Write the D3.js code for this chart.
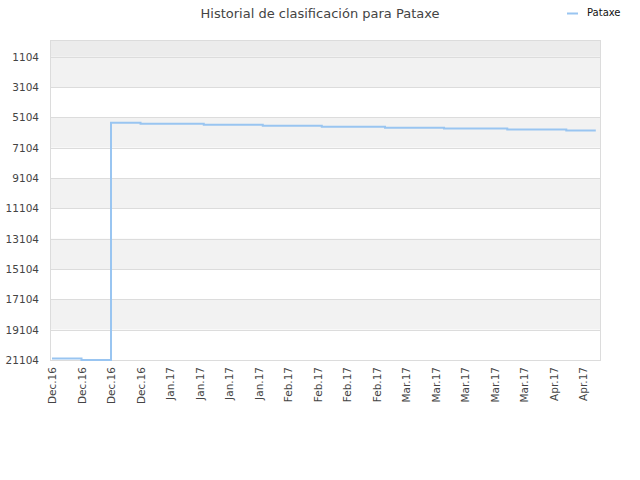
<!DOCTYPE html>
<html>
<head>
<meta charset="utf-8">
<script src="https://cdn.jsdelivr.net/npm/d3@7"></script>
<style>
  body { margin: 0; background: #fff; }
  text { font-family: "DejaVu Sans", sans-serif; }
</style>
</head>
<body>
<div id="graph"></div>
<script>
const seriesName = "Pataxe";
const dates = ["2016-12-07", "2016-12-14", "2016-12-21", "2016-12-28", "2017-01-12", "2017-01-26",
               "2017-02-09", "2017-02-24", "2017-03-10", "2017-03-25", "2017-04-08", "2017-04-15"];
const ranks = [21005, 21104, 5454, 5520, 5586, 5652, 5718, 5784, 5840, 5903, 5968, 5968];
const yTicks = [1104, 3104, 5104, 7104, 9104, 11104, 13104, 15104, 17104, 19104, 21104];
const xTicks = ["2016-12-07", "2016-12-14", "2016-12-21", "2016-12-28", "2017-01-04", "2017-01-11",
                "2017-01-18", "2017-01-25", "2017-02-01", "2017-02-08", "2017-02-15", "2017-02-22",
                "2017-03-01", "2017-03-08", "2017-03-15", "2017-03-22", "2017-03-29", "2017-04-05", "2017-04-12"];

const parse = d3.timeParse("%Y-%m-%d");
const data = dates.map((d, i) => ({ date: parse(d), rank: ranks[i] }));

const width = 640, height = 480;
const plot = { left: 50, right: 600, top: 40, bottom: 360 };

const svg = d3.select("#graph").append("svg")
    .attr("width", width)
    .attr("height", height);

const x = d3.scaleTime()
    .domain([parse("2016-12-07"), parse("2017-04-16")])
    .range([52, plot.right]);

const y = d3.scaleLinear()
    .domain([0, 21104])
    .range([plot.top, plot.bottom]);

// background bands, alternating between the ticks
const bandEdges = [0].concat(yTicks);
svg.append("g").selectAll("rect")
    .data(d3.pairs(bandEdges))
    .join("rect")
    .attr("x", plot.left)
    .attr("width", plot.right - plot.left)
    .attr("y", d => y(d[0]))
    .attr("height", d => y(d[1]) - y(d[0]))
    .attr("fill", (d, i) => i === 0 ? "#ececec" : (i % 2 === 1 ? "#f2f2f2" : "#ffffff"));

// grid lines
svg.append("g").selectAll("line")
    .data(yTicks)
    .join("line")
    .attr("x1", plot.left).attr("x2", plot.right)
    .attr("y1", d => Math.round(y(d)) + 0.5).attr("y2", d => Math.round(y(d)) + 0.5)
    .attr("stroke", "#dcdcdc");

// frame
svg.append("rect")
    .attr("x", plot.left + 0.5).attr("y", plot.top + 0.5)
    .attr("width", plot.right - plot.left).attr("height", plot.bottom - plot.top)
    .attr("fill", "none")
    .attr("stroke", "#dcdcdc");

// y axis
const yAxis = d3.axisLeft(y).tickValues(yTicks).tickSize(0).tickPadding(11).tickFormat(d3.format("d"));
svg.append("g")
    .attr("transform", `translate(${plot.left},0)`)
    .call(yAxis)
    .call(g => g.select(".domain").remove())
    .selectAll("text")
    .attr("font-size", 10.5)
    .attr("fill", "#444");

// x axis
const xAxis = d3.axisBottom(x).tickValues(xTicks.map(parse)).tickSize(0).tickFormat(d3.timeFormat("%b.%y"));
svg.append("g")
    .attr("transform", `translate(0,${plot.bottom})`)
    .call(xAxis)
    .call(g => g.select(".domain").remove())
    .selectAll("text")
    .attr("font-size", 10.5)
    .attr("fill", "#444")
    .attr("text-anchor", "end")
    .attr("dy", "0.35em")
    .attr("transform", "translate(0,7) rotate(-90)")
    .attr("x", 0)
    .attr("y", 0);

// ranking line
const line = d3.line()
    .x(d => x(d.date))
    .y(d => y(d.rank))
    .curve(d3.curveStepAfter);

svg.append("path")
    .datum(data)
    .attr("fill", "none")
    .attr("stroke", "#99c5f1")
    .attr("stroke-width", 2)
    .attr("d", line);

// title
svg.append("text")
    .attr("x", 320).attr("y", 18)
    .attr("text-anchor", "middle")
    .attr("font-size", 13)
    .attr("fill", "#444")
    .text("Historial de clasificación para " + seriesName);

// legend
svg.append("line")
    .attr("x1", 567).attr("x2", 578)
    .attr("y1", 13.5).attr("y2", 13.5)
    .attr("stroke", "#99c5f1")
    .attr("stroke-width", 2);
svg.append("text")
    .attr("x", 587).attr("y", 16)
    .attr("font-size", 10)
    .attr("fill", "#111")
    .text(seriesName);
</script>
</body>
</html>
